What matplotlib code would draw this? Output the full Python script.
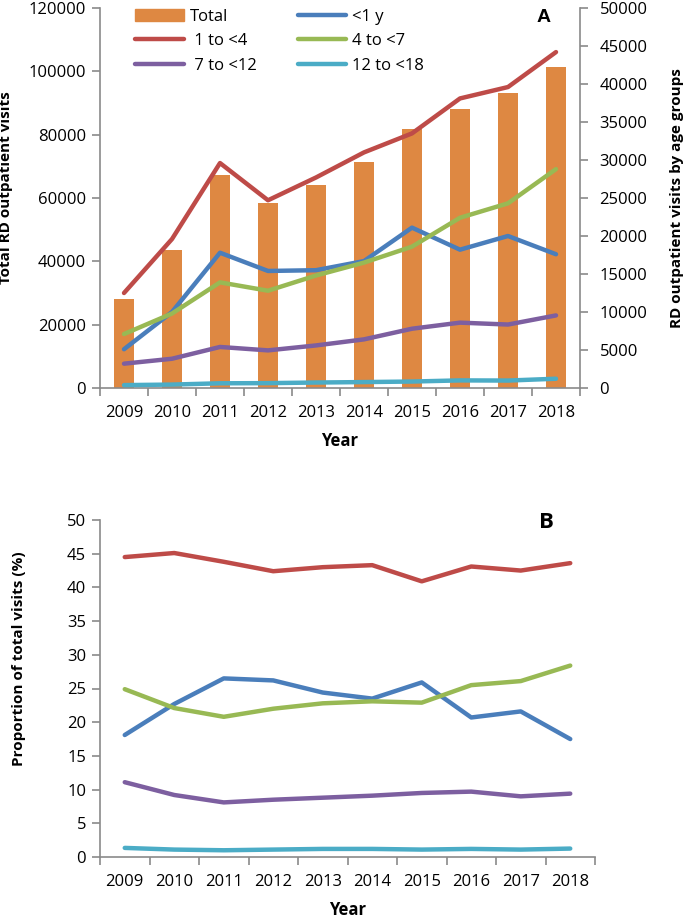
import numpy as np
import matplotlib
matplotlib.use("Agg")
import matplotlib.pyplot as plt
from matplotlib.patches import Patch
from matplotlib.lines import Line2D

# Data
years = ["2009", "2010", "2011", "2012", "2013", "2014", "2015", "2016", "2017", "2018"]
total = [28100, 43600, 67300, 58300, 64100, 71500, 81700, 88200, 93200, 101400]

# panel A, visits by age group (right axis)
lt1 = [5100, 10000, 17800, 15400, 15500, 16700, 21100, 18200, 20000, 17600]
a1_4 = [12500, 19600, 29600, 24700, 27700, 31000, 33500, 38100, 39600, 44200]
a4_7 = [7100, 9800, 13900, 12800, 14800, 16500, 18600, 22400, 24300, 28800]
a7_12 = [3200, 3850, 5400, 4950, 5600, 6400, 7800, 8600, 8350, 9550]
a12_18 = [380, 450, 620, 640, 720, 780, 850, 1000, 980, 1220]

# panel B, proportion of total visits (%)
p_lt1 = [18.1, 22.7, 26.5, 26.2, 24.4, 23.5, 25.9, 20.7, 21.6, 17.5]
p1_4 = [44.5, 45.1, 43.8, 42.4, 43.0, 43.3, 40.9, 43.1, 42.5, 43.6]
p4_7 = [24.9, 22.1, 20.8, 22.0, 22.8, 23.1, 22.9, 25.5, 26.1, 28.4]
p7_12 = [11.1, 9.2, 8.1, 8.5, 8.8, 9.1, 9.5, 9.7, 9.0, 9.4]
p12_18 = [1.35, 1.1, 1.0, 1.1, 1.2, 1.2, 1.1, 1.2, 1.1, 1.25]

group_labels = ["<1 y", " 1 to <4", "4 to <7", " 7 to <12", "12 to <18"]
colors = ["#4A7EBB", "#BE4B48", "#98B954", "#7D5FA0", "#4BACC6"]
bar_color = "#DE8842"
spine_c = "#8A8A8A"

tick_font = "Open Sans"

fig = plt.figure(figsize=(6.85, 9.17), dpi=100)
x = np.arange(len(years))


def style_xaxis(ax):
    ax.set_xlim(-0.5, len(years) - 0.5)
    ax.set_xticks(np.arange(-0.5, len(years)))
    ax.set_xticklabels([])
    ax.set_xticks(x, minor=True)
    ax.set_xticklabels(years, minor=True, fontfamily=tick_font, fontsize=12)
    ax.tick_params(axis="x", which="major", direction="out", length=6, width=1.2, color=spine_c)
    ax.tick_params(axis="x", which="minor", length=0, pad=12)
    ax.set_xlabel("Year", fontfamily=tick_font, fontweight="bold", fontsize=12, labelpad=8)


# ---- Panel A ----
ax = fig.add_axes([100 / 685, 1 - 388 / 917, 480 / 685, 380 / 917])
ax.bar(x, total, width=0.4, color=bar_color, zorder=1)
ax.set_ylim(0, 120000)
ax.set_yticks(np.arange(0, 120001, 20000))
ax.set_yticklabels([str(v) for v in range(0, 120001, 20000)], fontfamily=tick_font, fontsize=12)
ax.tick_params(axis="y", direction="out", length=6, width=1.2, color=spine_c, pad=4)
style_xaxis(ax)
for s in ["top", "right"]:
    ax.spines[s].set_visible(False)
for s in ["left", "bottom"]:
    ax.spines[s].set_color(spine_c)
    ax.spines[s].set_linewidth(1.2)
ax.set_ylabel("Total RD outpatient visits", fontfamily=tick_font, fontweight="bold", fontsize=11)
ax.yaxis.set_label_coords(-0.181, 0.526)

ax2 = ax.twinx()
for vals, c in zip([lt1, a1_4, a4_7, a7_12, a12_18], colors):
    ax2.plot(x, vals, color=c, lw=3.2, solid_capstyle="round")
ax2.set_ylim(0, 50000)
ax2.set_yticks(np.arange(0, 50001, 5000))
ax2.set_yticklabels([str(v) for v in range(0, 50001, 5000)], fontfamily=tick_font, fontsize=12)
ax2.tick_params(axis="y", direction="out", length=6, width=1.2, color=spine_c, pad=8)
for s in ["top", "left", "bottom"]:
    ax2.spines[s].set_visible(False)
ax2.spines["right"].set_color(spine_c)
ax2.spines["right"].set_linewidth(1.2)
ax2.set_ylabel("RD outpatient visits by age groups", fontfamily=tick_font, fontweight="bold", fontsize=11)
ax2.yaxis.set_label_coords(1.1875, 0.5)

handles = [Patch(color=bar_color),
           Line2D([], [], color=colors[1], lw=3.2, solid_capstyle="round"),
           Line2D([], [], color=colors[3], lw=3.2, solid_capstyle="round"),
           Line2D([], [], color=colors[0], lw=3.2, solid_capstyle="round"),
           Line2D([], [], color=colors[2], lw=3.2, solid_capstyle="round"),
           Line2D([], [], color=colors[4], lw=3.2, solid_capstyle="round")]
labels = ["Total", group_labels[1], group_labels[3], group_labels[0], group_labels[2], group_labels[4]]
ax2.legend(handles, labels, ncol=2, loc="upper left", bbox_to_anchor=(0.06, 1.015), frameon=False,
           prop={"family": tick_font, "size": 12}, handlelength=2.9, handletextpad=0.35,
           columnspacing=2.5, labelspacing=0.5, borderaxespad=0)
ax2.text(0.925, 0.976, "A", transform=ax2.transAxes, fontfamily="Liberation Sans", fontweight="bold",
         fontsize=14, ha="center", va="center")

# ---- Panel B ----
bx = fig.add_axes([100 / 685, 1 - 857 / 917, 495 / 685, 337 / 917])
for vals, c in zip([p_lt1, p1_4, p4_7, p7_12, p12_18], colors):
    bx.plot(x, vals, color=c, lw=3.2, solid_capstyle="round")
bx.set_ylim(0, 50)
bx.set_yticks(np.arange(0, 51, 5))
bx.set_yticklabels([str(v) for v in range(0, 51, 5)], fontfamily=tick_font, fontsize=12)
bx.tick_params(axis="y", direction="out", length=6, width=1.2, color=spine_c, pad=4)
style_xaxis(bx)
for s in ["top", "right"]:
    bx.spines[s].set_visible(False)
for s in ["left", "bottom"]:
    bx.spines[s].set_color(spine_c)
    bx.spines[s].set_linewidth(1.2)
bx.set_ylabel("Proportion of total visits (%)", fontfamily=tick_font, fontweight="bold", fontsize=11)
bx.yaxis.set_label_coords(-0.1495, 0.5875)
bx.text(0.901, 0.994, "B", transform=bx.transAxes, fontfamily=tick_font, fontweight="bold",
        fontsize=16, ha="center", va="center")

fig.savefig("out.png", dpi=100)
